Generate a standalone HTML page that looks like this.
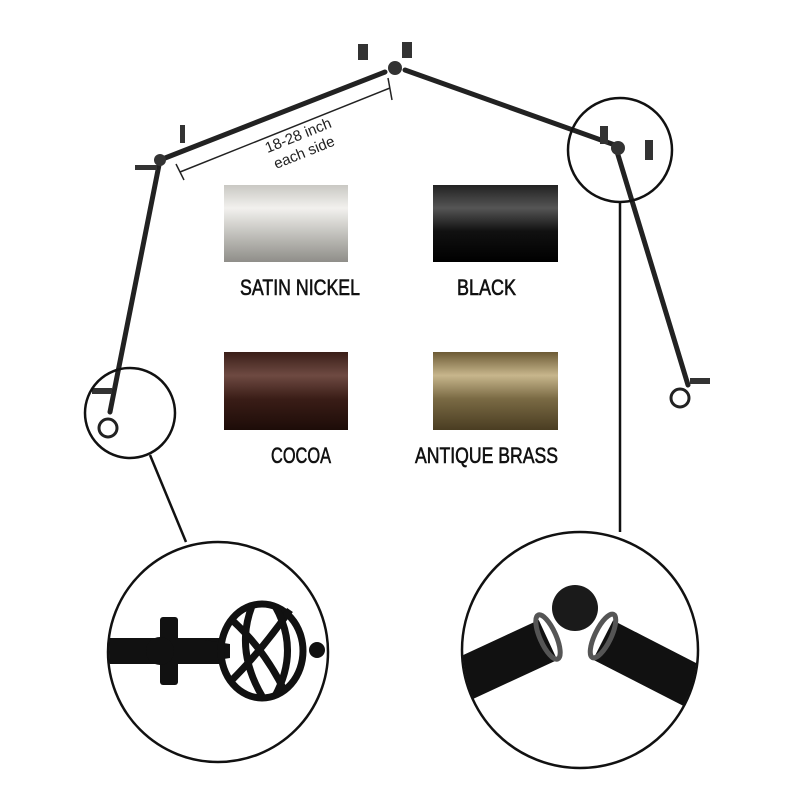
<!DOCTYPE html>
<html><head><style>
body{margin:0;background:#fff;}
svg{display:block}
text{font-family:"Liberation Sans",sans-serif;}
</style></head><body>
<svg width="800" height="800" viewBox="0 0 800 800" xmlns="http://www.w3.org/2000/svg">
<defs>
<linearGradient id="sn" x1="0" y1="0" x2="0" y2="1"><stop offset="0" stop-color="#c9c8c3"/><stop offset="0.3" stop-color="#f2f1ee"/><stop offset="0.7" stop-color="#b9b8b3"/><stop offset="1" stop-color="#8f8e89"/></linearGradient>
<linearGradient id="bk" x1="0" y1="0" x2="0" y2="1"><stop offset="0" stop-color="#222"/><stop offset="0.3" stop-color="#555"/><stop offset="0.6" stop-color="#111"/><stop offset="1" stop-color="#000"/></linearGradient>
<linearGradient id="co" x1="0" y1="0" x2="0" y2="1"><stop offset="0" stop-color="#3a1e18"/><stop offset="0.3" stop-color="#6e4a42"/><stop offset="0.6" stop-color="#3a1d17"/><stop offset="1" stop-color="#1d0c08"/></linearGradient>
<linearGradient id="ab" x1="0" y1="0" x2="0" y2="1"><stop offset="0" stop-color="#6c5a35"/><stop offset="0.3" stop-color="#c7b68c"/><stop offset="0.6" stop-color="#7a6a44"/><stop offset="1" stop-color="#4a3d22"/></linearGradient>
<clipPath id="cr"><circle cx="580" cy="650" r="117"/></clipPath>
<clipPath id="cl"><circle cx="218" cy="652" r="109"/></clipPath>
</defs>
<g stroke="#222" stroke-width="5" fill="none" stroke-linecap="round">
<polyline points="110,412 160,160 385,72"/>
<polyline points="405,70 615,145 688,385"/>
</g>
<g fill="#333">
<circle cx="160" cy="160" r="6"/><circle cx="395" cy="68" r="7"/><circle cx="618" cy="148" r="7"/>
<circle cx="108" cy="428" r="9" fill="none" stroke="#222" stroke-width="3"/>
<circle cx="680" cy="398" r="9" fill="none" stroke="#222" stroke-width="3"/>
<rect x="135" y="165" width="22" height="5"/><rect x="180" y="125" width="5" height="18"/>
<rect x="358" y="44" width="10" height="16"/><rect x="402" y="42" width="10" height="16"/>
<rect x="600" y="126" width="8" height="18"/><rect x="645" y="140" width="8" height="20"/>
<rect x="92" y="388" width="20" height="6"/><rect x="690" y="378" width="20" height="6"/>
</g>
<g stroke="#222" stroke-width="1.5">
<line x1="180" y1="172" x2="390" y2="88"/><line x1="176" y1="164" x2="184" y2="180"/><line x1="388" y1="78" x2="392" y2="100"/>
</g>
<text transform="translate(300,140) rotate(-22)" font-size="15" text-anchor="middle" fill="#222">18-28 inch</text>
<text transform="translate(306,157) rotate(-22)" font-size="15" text-anchor="middle" fill="#222">each side</text>
<rect x="224" y="185" width="124" height="77" fill="url(#sn)"/>
<rect x="433" y="185" width="125" height="77" fill="url(#bk)"/>
<rect x="224" y="352" width="124" height="78" fill="url(#co)"/>
<rect x="433" y="352" width="125" height="78" fill="url(#ab)"/>
<g font-size="22" fill="#111" stroke="#111" stroke-width="0.6">
<text x="240" y="295" textLength="120" lengthAdjust="spacingAndGlyphs">SATIN NICKEL</text>
<text x="457" y="295" textLength="59" lengthAdjust="spacingAndGlyphs">BLACK</text>
<text x="271" y="463" textLength="60" lengthAdjust="spacingAndGlyphs">COCOA</text>
<text x="415" y="463" textLength="143" lengthAdjust="spacingAndGlyphs">ANTIQUE BRASS</text>
</g>
<g fill="none" stroke="#111" stroke-width="2.5">
<circle cx="130" cy="413" r="45"/><circle cx="620" cy="150" r="52"/>
<line x1="150" y1="455" x2="186" y2="542"/><line x1="620" y1="202" x2="620" y2="532"/>
</g>
<g clip-path="url(#cl)">
<g fill="#111">
<rect x="100" y="638" width="120" height="26"/>
<rect x="160" y="617" width="18" height="68" rx="3"/>
<circle cx="160" cy="651" r="14"/>
<path d="M205,640 L230,644 L230,658 L205,662Z"/>
<circle cx="317" cy="650" r="8"/>
</g>
<ellipse cx="262" cy="651" rx="41" ry="47" fill="none" stroke="#111" stroke-width="7"/>
<g stroke="#111" stroke-width="7" fill="none">
<path d="M232,620 Q265,650 285,692"/><path d="M232,680 Q262,650 290,610"/><path d="M252,606 Q235,650 262,696"/><path d="M275,606 Q300,650 275,696"/>
</g>
</g>
<g clip-path="url(#cr)">
<g stroke="#111" stroke-width="44" fill="none">
<line x1="440" y1="690" x2="548" y2="640"/>
<line x1="603" y1="640" x2="720" y2="700"/>
</g>
<circle cx="575" cy="608" r="23" fill="#1a1a1a"/>
<g fill="none" stroke="#555" stroke-width="5">
<ellipse cx="548" cy="637" rx="8" ry="24" transform="rotate(-24 548 637)"/>
<ellipse cx="603" cy="636" rx="8" ry="24" transform="rotate(26 603 636)"/>
</g>
</g>
<g fill="none" stroke="#111" stroke-width="2.5">
<circle cx="218" cy="652" r="110"/><circle cx="580" cy="650" r="118"/>
</g>
</svg>
</body></html>
